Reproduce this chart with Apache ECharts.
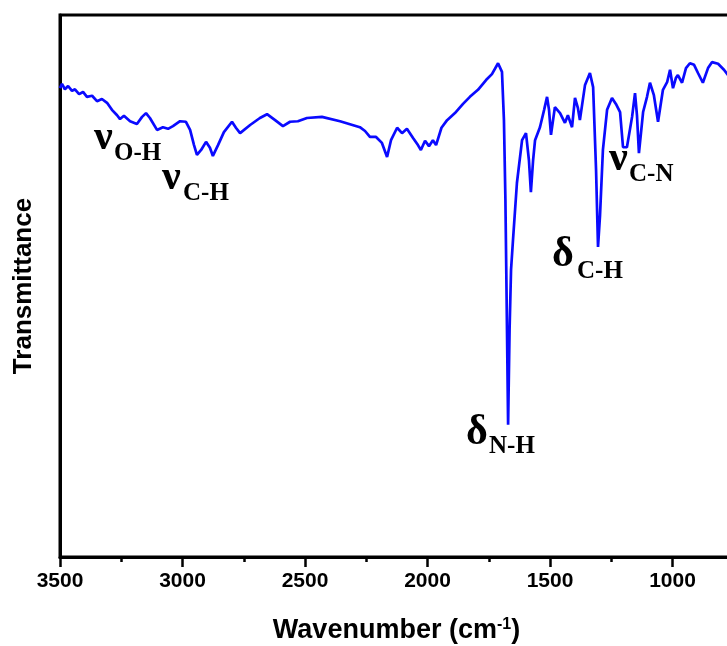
<!DOCTYPE html>
<html>
<head>
<meta charset="utf-8">
<script src="https://cdn.jsdelivr.net/npm/echarts@6/dist/echarts.min.js"></script>
<style>html,body{margin:0;padding:0;background:#fff;}#c{width:727px;height:646px;}</style>
</head>
<body>
<div id="c"></div>
<script>
// Wavenumber (cm-1)
const wavenumbers = [3500,3492,3480,3467,3451,3439,3422,3406,3390,3369,3349,3329,3308,3288,3267,3255,3239,3214,3186,3165,3149,3133,3104,3080,3059,3039,3010,2986,2969,2953,2941,2924,2904,2888,2876,2855,2831,2798,2782,2765,2724,2684,2655,2622,2590,2561,2529,2492,2431,2357,2276,2255,2235,2210,2186,2165,2149,2124,2104,2084,2059,2039,2027,2010,1994,1978,1965,1943,1920,1888,1855,1827,1794,1761,1737,1712,1696,1688,1682,1676,1671,1665,1659,1651,1635,1614,1598,1586,1578,1569,1561,1541,1524,1512,1504,1496,1480,1459,1439,1427,1410,1398,1386,1378,1357,1337,1324,1312,1304,1296,1284,1267,1247,1231,1214,1202,1186,1165,1153,1145,1137,1120,1104,1092,1076,1059,1039,1022,1010,998,986,978,961,945,929,912,896,876,855,839,814,790,765,724];
// Transmittance (arbitrary units)
const transmittance = [86.5,87.3,86.3,86.9,86.0,86.3,85.4,85.8,84.9,85.1,84.1,84.5,83.8,82.5,81.5,80.8,81.4,80.4,79.9,81.2,81.9,81.0,78.8,79.3,79.0,79.5,80.4,80.3,78.8,76.0,74.2,75.1,76.6,75.5,74.0,76.0,78.4,80.3,79.2,78.2,79.7,81.0,81.7,80.6,79.5,80.3,80.4,81.0,81.2,80.4,79.3,78.6,77.5,77.5,76.4,73.8,76.9,79.2,78.2,79.0,77.3,76.0,75.1,76.8,75.8,76.9,76.0,79.2,80.6,81.9,83.6,84.9,86.2,88.0,89.1,91.1,89.5,80.6,65.9,43.7,24.4,41.9,53.0,58.5,69.0,76.9,78.2,73.2,67.3,73.2,76.9,79.3,82.5,84.9,82.5,77.9,83.0,81.9,80.1,81.5,79.3,84.7,82.8,80.6,87.1,89.3,86.7,71.4,57.2,62.9,75.1,82.5,84.7,83.6,82.1,75.6,75.6,81.2,85.6,81.5,74.5,82.1,84.9,87.5,85.2,80.3,86.2,87.6,89.9,86.5,88.4,88.9,87.5,90.2,91.1,90.8,89.3,87.5,90.2,91.3,91.0,89.9,88.4,86.5];
const xTicks = [3500,3000,2500,2000,1500,1000];
const annotations = [
  {sym:'ν', sub:'O-H'},
  {sym:'ν', sub:'C-H'},
  {sym:'δ', sub:'N-H'},
  {sym:'δ', sub:'C-H'},
  {sym:'ν', sub:'C-N'}
];
// label positions (pixels): symbol left/center-y, subscript left/center-y
const annPos = [
  [94,138,114,154],
  [162,178,183,194],
  [466,433,489,447],
  [552,255,577,272],
  [609,159,629,175]
];

const chart = echarts.init(document.getElementById('c'));
const seriesData = wavenumbers.map((w,i)=>[w, transmittance[i]]);
const graphics = [];
annotations.forEach((a,i)=>{
  const p = annPos[i];
  graphics.push({type:'text', style:{x:p[0], y:p[1], text:a.sym, font:'bold 42px "Liberation Serif", "DejaVu Serif", serif', fill:'#000', verticalAlign:'middle', align:'left'}});
  graphics.push({type:'text', style:{x:p[2], y:p[3], text:a.sub, font:'bold 25px "Liberation Serif", "DejaVu Serif", serif', fill:'#000', verticalAlign:'middle', align:'left'}});
});

chart.setOption({
  animation:false,
  backgroundColor:'#fff',
  grid:{left:60, top:15, width:735, height:542, show:true, borderColor:'#000', borderWidth:3, containLabel:false, outerBoundsMode:'none'},
  xAxis:{
    type:'value', inverse:true, min:500, max:3500, interval:500,
    name:'Wavenumber (cm{sup|-1})', nameLocation:'middle', nameGap:60,
    nameTextStyle:{fontFamily:'"Liberation Sans", Arial, sans-serif', fontWeight:'bold', fontSize:27, color:'#000', padding:[0,62,0,0],
      rich:{sup:{fontSize:16, fontWeight:'bold', fontFamily:'"Liberation Sans", Arial, sans-serif', verticalAlign:'top', color:'#000'}}},
    axisLine:{show:true, lineStyle:{color:'#000', width:3}},
    axisTick:{show:true, inside:false, length:10, lineStyle:{color:'#000', width:2.5}},
    minorTick:{show:true, splitNumber:2, length:5, lineStyle:{color:'#000', width:2.5}},
    splitLine:{show:false},
    axisLabel:{show:true, margin:14, color:'#000', fontSize:21, fontWeight:'bold', fontFamily:'"Liberation Sans", Arial, sans-serif',
      formatter:v=> xTicks.indexOf(v)>=0 ? String(v) : ''}
  },
  yAxis:{
    type:'value', min:0, max:100,
    name:'Transmittance', nameLocation:'middle', nameGap:23, nameRotate:90,
    nameTextStyle:{fontFamily:'"Liberation Sans", Arial, sans-serif', fontWeight:'bold', fontSize:26, color:'#000'},
    axisLine:{show:true, lineStyle:{color:'#000', width:3}},
    axisTick:{show:false}, axisLabel:{show:false}, splitLine:{show:false}
  },
  series:[{
    type:'line', data:seriesData, showSymbol:false, symbol:'none',
    lineStyle:{color:'#0a0aff', width:2.7}, smooth:false, clip:true
  }],
  graphic:graphics
});
</script>
</body>
</html>
